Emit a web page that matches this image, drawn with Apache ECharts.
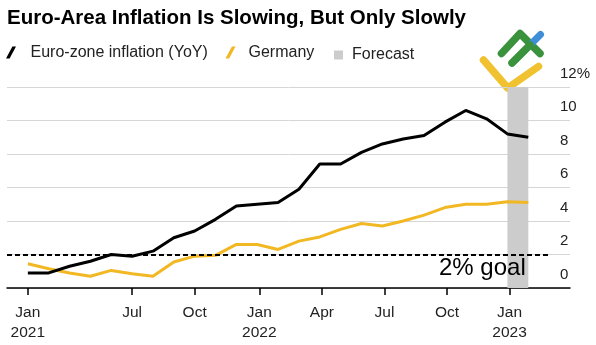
<!DOCTYPE html>
<html>
<head>
<meta charset="utf-8">
<script src="https://cdn.jsdelivr.net/npm/echarts@6/dist/echarts.min.js"></script>
<style>
  html, body { margin: 0; padding: 0; background: #fff; }
  #chart { width: 596px; height: 345px; }
</style>
</head>
<body>
<div id="chart"></div>
<script>
// Monthly inflation, year over year, in percent (Jan 2021 .. Jan 2023)
const months = [
  '2021-01', '2021-02', '2021-03', '2021-04', '2021-05', '2021-06',
  '2021-07', '2021-08', '2021-09', '2021-10', '2021-11', '2021-12',
  '2022-01', '2022-02', '2022-03', '2022-04', '2022-05', '2022-06',
  '2022-07', '2022-08', '2022-09', '2022-10', '2022-11', '2022-12',
  '2023-01'
];
const euroZone = [0.9, 0.9, 1.3, 1.6, 2.0, 1.9, 2.2, 3.0, 3.4, 4.1, 4.9, 5.0,
                  5.1, 5.9, 7.4, 7.4, 8.1, 8.6, 8.9, 9.1, 9.9, 10.6, 10.1, 9.2,
                  9.0];
const germany = [1.45, 1.15, 0.9, 0.7, 1.05, 0.85, 0.7, 1.55, 1.9, 1.95, 2.6, 2.6,
                 2.3, 2.8, 3.05, 3.5, 3.85, 3.7, 4.0, 4.35, 4.8, 5.0, 5.0, 5.15,
                 5.1];

// x positions are month offsets from Jan 2021
const tickPositions = [0, 5, 8, 11.1, 14.1, 17.1, 20.1, 23.1];
const tickLabels = ['Jan\n2021', 'Jul', 'Oct', 'Jan\n2022', 'Apr', 'Jul', 'Oct', 'Jan\n2023'];
const forecastFrom = '2022-12';
const forecastTo = '2023-01';
const goalRate = 2;

const idx = m => months.indexOf(m);
const pairs = vals => vals.map((v, i) => [i, v]);

const slashIcon = 'path://M0,12L3.6,12L10,0L6.4,0Z';
const FONT = '"Liberation Sans", Arial, Helvetica, sans-serif';
const legendText = { fontSize: 16, color: '#222' };

const chart = echarts.init(document.getElementById('chart'), null, { renderer: 'canvas' });

chart.setOption({
  backgroundColor: '#ffffff',
  animation: false,
  textStyle: { fontFamily: FONT },
  title: {
    text: 'Euro-Area Inflation Is Slowing, But Only Slowly',
    left: 7, top: 8, padding: 0,
    textStyle: { fontSize: 20.5, fontWeight: 'bold', color: '#000', fontFamily: FONT }
  },
  legend: [
    {
      data: [{ name: 'Euro-zone inflation (YoY)', icon: slashIcon }],
      left: 6, top: 44.5, padding: 0, itemWidth: 10, itemHeight: 14,
      selectedMode: false,
      lineStyle: { width: 0 },
      textStyle: Object.assign({ padding: [0, 0, 0, 9.5] }, legendText)
    },
    {
      data: [{ name: 'Germany', icon: slashIcon }],
      left: 225.5, top: 44.5, padding: 0, itemWidth: 10, itemHeight: 14,
      selectedMode: false,
      lineStyle: { width: 0 },
      textStyle: Object.assign({ padding: [0, 0, 0, 8] }, legendText)
    },
    {
      data: [{ name: 'Forecast', icon: 'rect' }],
      left: 334, top: 47, padding: 0, itemWidth: 9, itemHeight: 9,
      selectedMode: false,
      textStyle: Object.assign({ padding: [0, 0, 0, 4] }, legendText)
    }
  ],
  grid: { left: 7, right: 26, top: 87, bottom: 57, containLabel: false },
  xAxis: {
    type: 'value',
    min: -1, max: 26,
    splitLine: { show: false },
    axisLine: { show: true, lineStyle: { color: '#000', width: 1.5 } },
    axisTick: {
      show: true, customValues: tickPositions, length: 7,
      lineStyle: { color: '#000', width: 1.5 }
    },
    axisLabel: {
      customValues: tickPositions,
      formatter: v => tickLabels[tickPositions.indexOf(v)] || '',
      fontSize: 15.5, lineHeight: 20, color: '#222', margin: 15
    }
  },
  yAxis: {
    type: 'value',
    position: 'right',
    min: 0, max: 12, interval: 2,
    axisLine: { show: false },
    axisTick: { show: false },
    splitLine: { show: true, lineStyle: { color: '#d6d6d6', width: 1 } },
    axisLabel: {
      margin: -10, align: 'left', verticalAlign: 'bottom',
      padding: [0, 0, 6, 0],
      fontSize: 15, color: '#222',
      formatter: v => (v === 12 ? '12%' : String(v))
    }
  },
  series: [
    {
      name: 'Forecast',
      type: 'line',
      data: [],
      itemStyle: { color: '#cccccc' },
      z: 1,
      markArea: {
        silent: true,
        itemStyle: { color: '#cccccc' },
        data: [[{ xAxis: idx(forecastFrom), yAxis: 0 }, { xAxis: idx(forecastTo), yAxis: 12 }]]
      }
    },
    {
      name: 'Euro-zone inflation (YoY)',
      type: 'line',
      data: pairs(euroZone),
      showSymbol: false,
      symbol: 'none',
      z: 4,
      itemStyle: { color: '#000000' },
      lineStyle: { color: '#000000', width: 3 },
      markLine: {
        silent: true,
        symbol: 'none',
        label: { show: false },
        lineStyle: { color: '#000', width: 2, type: [5, 3] },
        data: [[{ coord: [-1, goalRate] }, { coord: [25, goalRate] }]]
      }
    },
    {
      name: 'Germany',
      type: 'line',
      data: pairs(germany),
      showSymbol: false,
      symbol: 'none',
      z: 3,
      itemStyle: { color: '#f2b824' },
      lineStyle: { color: '#f2b824', width: 3 }
    }
  ],
  graphic: [
    {
      type: 'text', left: 439, top: 256, z: 20,
      style: { text: goalRate + '% goal', fontSize: 24, fill: '#000', fontFamily: FONT }
    },
    // brand mark, top right
    {
      type: 'group', z: 30,
      children: [
        { type: 'polyline', shape: { points: [[483.5, 60], [507.7, 88], [538.5, 66.5]] },
          style: { stroke: '#f0c230', lineWidth: 7.5, lineCap: 'round', lineJoin: 'round', fill: null } },
        { type: 'polyline', shape: { points: [[501.5, 53.5], [520, 33.5], [540, 53.5]] },
          style: { stroke: '#3a923c', lineWidth: 7.5, lineCap: 'round', lineJoin: 'round', fill: null } },
        { type: 'polyline', shape: { points: [[530, 45], [540.5, 34.5]] },
          style: { stroke: '#3f8fd8', lineWidth: 7, lineCap: 'round', fill: null } },
        { type: 'polyline', shape: { points: [[512, 63], [530, 45]] },
          style: { stroke: '#3a923c', lineWidth: 7.5, lineCap: 'round', fill: null } }
      ]
    }
  ]
});
</script>
</body>
</html>
